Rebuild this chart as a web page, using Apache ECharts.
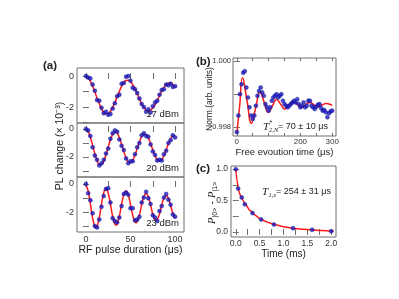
<!DOCTYPE html>
<html><head><meta charset="utf-8">
<script src="https://cdn.jsdelivr.net/npm/echarts@6/dist/echarts.min.js"></script>
<style>html,body{margin:0;padding:0;background:#fff}#c{width:399px;height:299px}</style>
</head><body><div id="c"></div>
<script>
// ---------- data ----------
const aTime = [0,2.5,5,7.5,10,12.5,15,17.5,20,22.5,25,27.5,30,32.5,35,37.5,40,42.5,45,47.5,50,52.5,55,57.5,60,62.5,65,67.5,70,72.5,75,77.5,80,82.5,85,87.5,90,92.5,95,97.5,100];
const a17 = [0.0,-0.1,-0.15,-0.55,-0.95,-1.55,-1.6,-2.05,-2.4,-2.3,-2.5,-2.45,-2.1,-1.75,-1.3,-1.2,-0.5,-0.45,-0.05,0.0,-0.3,-0.75,-0.85,-1.1,-1.45,-1.8,-2.0,-2.3,-2.15,-2.35,-1.95,-1.7,-1.6,-1.2,-0.9,-0.85,-0.55,-0.6,-0.5,-0.7,-0.65];
const a17Fit = [-0.05,-0.13,-0.34,-0.65,-1.02,-1.42,-1.79,-2.11,-2.33,-2.43,-2.41,-2.27,-2.02,-1.69,-1.34,-0.98,-0.67,-0.43,-0.29,-0.27,-0.36,-0.55,-0.82,-1.14,-1.47,-1.77,-2.02,-2.18,-2.24,-2.20,-2.06,-1.84,-1.56,-1.27,-0.98,-0.73,-0.55,-0.45,-0.45,-0.55,-0.72];
const a20 = [0,-0.1,-0.5,-1.3,-1.9,-2.2,-2.6,-2.45,-2.2,-1.75,-1.4,-0.7,-0.3,-0.1,-0.2,-0.75,-1.2,-1.5,-2.1,-2.45,-2.3,-2.3,-1.8,-1.3,-1.0,-0.45,-0.3,-0.5,-0.55,-1.1,-1.6,-1.85,-2.25,-2.2,-2.25,-1.8,-1.55,-1.0,-0.8,-0.45,-0.6];
const a20Fit = [-0.05,-0.21,-0.61,-1.17,-1.76,-2.25,-2.53,-2.54,-2.29,-1.84,-1.29,-0.77,-0.38,-0.21,-0.30,-0.62,-1.09,-1.61,-2.06,-2.35,-2.41,-2.23,-1.87,-1.40,-0.93,-0.55,-0.37,-0.40,-0.64,-1.04,-1.49,-1.91,-2.19,-2.28,-2.18,-1.89,-1.48,-1.06,-0.71,-0.50,-0.50];
const a23 = [0,-0.65,-1.15,-2.05,-2.95,-3.05,-2.5,-1.6,-0.85,-0.35,-0.3,-1.3,-2.4,-2.6,-2.7,-2.35,-1.55,-0.7,-0.6,-0.75,-1.7,-1.7,-2.55,-2.5,-2.3,-1.3,-0.95,-0.55,-1.0,-1.4,-2.2,-2.35,-2.6,-1.9,-1.55,-0.95,-0.7,-1.1,-1.45,-2.15,-2.3];
const a23FitTime = [0,2.5,5,7.5,10,11.25,12.5,15,17.5,20,22.5,25,27.5,30,32.5,33.75,35,37.5,40,42.5,45,47.5,50,52.5,55,56.25,57.5,60,62.5,65,67.5,70,72.5,75,77.5,78.75,80,82.5,85,87.5,90,92.5,95,97.5,100];
const a23Fit = [-0.10,-0.48,-1.39,-2.39,-3.01,-3.09,-2.99,-2.35,-1.41,-0.61,-0.32,-0.65,-1.43,-2.28,-2.82,-2.89,-2.80,-2.25,-1.44,-0.76,-0.50,-0.78,-1.46,-2.20,-2.66,-2.72,-2.64,-2.17,-1.47,-0.88,-0.66,-0.91,-1.48,-2.12,-2.52,-2.57,-2.51,-2.10,-1.50,-0.99,-0.80,-1.01,-1.51,-2.06,-2.40];
const aPowers = ['17 dBm','20 dBm','23 dBm'];

const bTime = [0,5,10,15,20,25,30,35,40,45,50,55,60,65,70,75,80,85,90,95,100,105,110,115,120,125,130,135,140,145,150,155,160,165,170,175,180,185,190,195,200,205,210,215,220,225,230,235,240,245,250,255,260,265,270,275,280,285,290,295,300];
const bNorm = [0.99785,0.99835,0.99900,0.99930,0.99965,0.99970,0.99920,0.99890,0.99860,0.99835,0.99825,0.99835,0.99865,0.99895,0.99910,0.99920,0.99905,0.99895,0.99870,0.99860,0.99850,0.99860,0.99880,0.99890,0.99895,0.99900,0.99890,0.99895,0.99900,0.99880,0.99870,0.99865,0.99860,0.99865,0.99870,0.99875,0.99880,0.99875,0.99885,0.99870,0.99860,0.99865,0.99875,0.99860,0.99865,0.99880,0.99880,0.99865,0.99860,0.99855,0.99862,0.99868,0.99870,0.99858,0.99850,0.99852,0.99845,0.99830,0.99842,0.99848,0.99850];
const bFitTime = [0,9,18,32,46,59.5,73,86,99,112,125,138,151,164,177,190,203,216,229,242,255,268,281,290,300];
const bFit = [0.99780,0.99865,0.99950,0.99881,0.99812,0.998595,0.99907,0.99876,0.99845,0.998645,0.99884,0.998695,0.99855,0.998665,0.99878,0.99869,0.99860,0.998675,0.99875,0.998685,0.99862,0.99867,0.99872,0.99870,0.99866];

const cTime = [0,0.05,0.125,0.19,0.35,0.53,0.8,1.2,1.6,2.0];
const cP = [1.0,0.69,0.55,0.44,0.30,0.20,0.12,0.06,0.035,0.01];
const cFitTime = [0,0.01,0.025,0.05,0.075,0.1,0.15,0.2,0.3,0.4,0.5,0.6,0.7,0.8,1.0,1.2,1.4,1.6,1.8,2.0,2.05];
const cFit = [1.0,0.92,0.82,0.70,0.625,0.575,0.505,0.44,0.34,0.27,0.215,0.175,0.145,0.12,0.085,0.06,0.045,0.033,0.024,0.016,0.015];

// ---------- styling ----------
const FONT = 'Liberation Sans, Arial, sans-serif';
const SERIF = 'Liberation Serif, Times New Roman, serif';
const FRAME = '#6e6e6e';
const TXT = '#333';
const BLUE = '#1c1cc4';
const RED = '#ff1a1a';

const grids = [
  {left:77, top:68, width:107, height:55},
  {left:77, top:123, width:107, height:54},
  {left:77, top:177, width:107, height:55},
  {left:233, top:58, width:103, height:78},
  {left:231, top:166, width:105, height:71}
].map(g => Object.assign({show:true, borderColor:FRAME, borderWidth:1, backgroundColor:'transparent', outerBoundsMode:'none', containLabel:false}, g));

const xAxis = [], yAxis = [];
function addX(gi, min, max, ticks, labels, fmt, margin, fs, name, nameGap, nameSize) {
  xAxis.push({type:'value', gridIndex:gi, position:'bottom', min, max,
    axisLine:{show:false}, splitLine:{show:false},
    axisTick:{show:true, inside:true, length:3, lineStyle:{color:FRAME}, customValues:ticks},
    axisLabel:{show:!!labels, customValues:labels||[], formatter:fmt, fontSize:fs, color:TXT, fontFamily:FONT, margin},
    name:name||'', nameLocation:'middle', nameGap:nameGap||0,
    nameTextStyle:{fontSize:nameSize||10, color:'#222', fontFamily:FONT}});
  xAxis.push({type:'value', gridIndex:gi, position:'top', min, max,
    axisLine:{show:false}, splitLine:{show:false},
    axisTick:{show:true, inside:true, length:3, lineStyle:{color:FRAME}, customValues:ticks},
    axisLabel:{show:false}});
}
function addY(gi, min, max, ticks, labels, fmt, margin, fs) {
  yAxis.push({type:'value', gridIndex:gi, position:'left', min, max,
    axisLine:{show:false}, splitLine:{show:false},
    axisTick:{show:true, inside:true, length:3, lineStyle:{color:FRAME}, customValues:ticks},
    axisLabel:{show:true, customValues:labels, formatter:fmt, fontSize:fs, color:TXT, fontFamily:FONT, margin}});
  yAxis.push({type:'value', gridIndex:gi, position:'right', min, max,
    axisLine:{show:false}, splitLine:{show:false},
    axisTick:{show:true, inside:true, length:3, lineStyle:{color:FRAME}, customValues:ticks},
    axisLabel:{show:false}});
}
const aTicks = [0,25,50,75,100];
addX(0,-10,110,aTicks,null,null,3,9);
addX(1,-10,110,aTicks,null,null,3,9);
addX(2,-10,110,aTicks,[0,50,100],v=>String(v),3,9,'RF pulse duration (\u03bcs)',12,10.5);
addX(3,-12,312,[0,50,100,150,200,250,300],[0,200,300],v=>String(v),2,8,'Free evoution time (\u03bcs)',9,9.5);
addX(4,-0.1,2.1,[0,0.25,0.5,0.75,1,1.25,1.5,1.75,2],[0,0.5,1,1.5,2],v=>v.toFixed(1),2,8.5,'Time (ms)',8,10);
const aYTicks = [-3,-2,-1,0];
const aFmt = v => String(v);
addY(0,-3.03,0.52,aYTicks,[-2,0],aFmt,3,9);
addY(1,-3.43,0.43,aYTicks,[-2,0],aFmt,3,9);
addY(2,-3.37,0.49,aYTicks,[-2,0],aFmt,3,9);
addY(3,0.99773,1.0001,[0.998,0.999,1.000],[0.998,1.000],v=>v.toFixed(3),2,7.5);
addY(4,-0.08,1.05,[0,0.25,0.5,0.75,1],[0,0.5,1],v=>v.toFixed(1),3,8.5);

const series = [];
function fitLine(gi, xs, ys, extra) {
  series.push(Object.assign({type:'line', xAxisIndex:2*gi, yAxisIndex:2*gi, data:xs.map((t,i)=>[t,ys[i]]),
    showSymbol:false, smooth:0.5, lineStyle:{color:RED, width:1.5}, z:2, silent:true}, extra||{}));
}
function pts(gi, xs, ys) {
  series.push({type:'scatter', xAxisIndex:2*gi, yAxisIndex:2*gi, data:xs.map((t,i)=>[t,ys[i]]),
    symbolSize:4, itemStyle:{color:BLUE, borderColor:'#10108a', borderWidth:0.5}, z:3, silent:true});
}
fitLine(0,aTime,a17Fit); pts(0,aTime,a17);
fitLine(1,aTime,a20Fit); pts(1,aTime,a20);
fitLine(2,a23FitTime,a23Fit); pts(2,aTime,a23);
fitLine(3,bFitTime,bFit); pts(3,bTime,bNorm);
fitLine(4,cFitTime,cFit,{smooth:0.3, smoothMonotone:'x'}); pts(4,cTime,cP);

function txt(x,y,text,size,opt) {
  return {type:'text', x, y, silent:true, z:10, style:Object.assign({text, fontSize:size, fontFamily:FONT, fill:'#222', align:'left', verticalAlign:'middle'}, opt||{})};
}
const graphic = [
  txt(43,65.5,'(a)',11.5,{fontWeight:'bold'}),
  txt(196,61.5,'(b)',11.5,{fontWeight:'bold'}),
  txt(196,169,'(c)',11.5,{fontWeight:'bold'}),
  txt(179,114,aPowers[0],9.5,{align:'right'}),
  txt(179,168,aPowers[1],9.5,{align:'right'}),
  txt(179,223,aPowers[2],9.5,{align:'right'}),
  {type:'text', x:60, y:146, rotation:Math.PI/2, silent:true, style:{text:'PL change (\u00d7 10\u207b\u00b3)', fontSize:10.5, fontFamily:FONT, fill:'#222', align:'center', verticalAlign:'middle'}},
  {type:'text', x:210, y:99, rotation:Math.PI/2, silent:true, style:{text:'Norm.(arb. units)', fontSize:8.5, fontFamily:FONT, fill:'#222', align:'center', verticalAlign:'middle'}},
  {type:'group', x:212, y:203, rotation:Math.PI/2, silent:true, children:[
    {type:'text', x:-21, y:0, style:{text:'P', fontSize:10.5, fontStyle:'italic', fontFamily:SERIF, fill:'#222', verticalAlign:'middle'}},
    {type:'text', x:-14.5, y:3, style:{text:'|0>', fontSize:7, fontFamily:FONT, fill:'#222', verticalAlign:'middle'}},
    {type:'text', x:-1.5, y:0, style:{text:'-', fontSize:10, fontFamily:FONT, fill:'#222', verticalAlign:'middle'}},
    {type:'text', x:5, y:0, style:{text:'P', fontSize:10.5, fontStyle:'italic', fontFamily:SERIF, fill:'#222', verticalAlign:'middle'}},
    {type:'text', x:11.5, y:3, style:{text:'|1>', fontSize:7, fontFamily:FONT, fill:'#222', verticalAlign:'middle'}}
  ]},
  // annotation b
  txt(263,127,'T',11,{fontStyle:'italic', fontFamily:SERIF}),
  txt(269.5,123,'*',7,{}),
  txt(269,130,'2,N',6.5,{fontStyle:'italic', fontFamily:SERIF}),
  txt(278,127,'= 70 \u00b1 10 \u03bcs',9,{}),
  // annotation c
  txt(262,192,'T',11,{fontStyle:'italic', fontFamily:SERIF}),
  txt(268.5,195,'1,e',6.5,{fontStyle:'italic', fontFamily:SERIF}),
  txt(276,192,'= 254 \u00b1 31 \u03bcs',9,{})
];

const chart = echarts.init(document.getElementById('c'), null, {renderer:'canvas'});
chart.setOption({animation:false, backgroundColor:'#fff', grid:grids, xAxis, yAxis, series, graphic});
</script></body></html>
